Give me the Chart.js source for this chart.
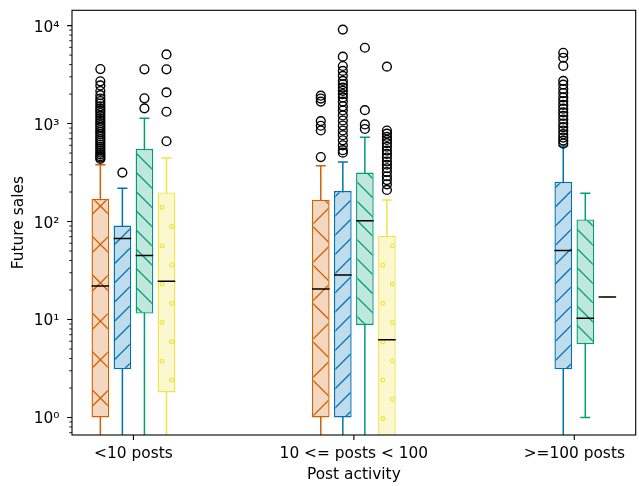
<!DOCTYPE html>
<html><head><meta charset="utf-8">
<script src="https://cdn.jsdelivr.net/npm/chart.js@4/dist/chart.umd.min.js"></script>
<style>html,body{margin:0;padding:0;overflow:hidden;background:#fff;width:639px;height:486px}canvas{display:block}</style>
</head><body>
<canvas id="c" width="646" height="486" style="width:646px;height:486px"></canvas>
<script>
// ---------------- data ----------------
const categories = ['<10 posts', '10 <= posts < 100', '>=100 posts'];
const xTitle = 'Post activity';
const yTitle = 'Future sales';
const yTickValues = [1, 10, 100, 1000, 10000];
const yRange = [0.662, 14330];

// series A (vermillion, "x" hatch)
const aQ1 = [1, 1, null];
const aMedian = [22, 20.5, null];
const aQ3 = [170, 167, null];
const aWhiskerLow = [0, 0, null];
const aWhiskerHigh = [380, 370, null];
const aOutliers = [
  [3600, 2700, 2450, 2150, 1950, 1800, 1700, 1600, 1500, 1420, 1350, 1280, 1200, 1130, 1070, 1010, 960, 910, 860, 820, 780, 740, 700, 670, 640, 610, 580, 555, 530, 505, 485, 465, 450, 435],
  [1925, 1800, 1675, 1060, 950, 850, 455],
  []
];
// series B (blue, "/" hatch)
const bQ1 = [3.1, 1, 3.1];
const bMedian = [67, 28.4, 50.5];
const bQ3 = [91, 205, 254];
const bWhiskerLow = [0, 0, 0];
const bWhiskerHigh = [218, 405, 590];
const bOutliers = [
  [316],
  [9100, 4820, 3870, 3450, 3070, 2730, 2520, 2330, 2160, 2000, 1850, 1675, 1500, 1360, 1210, 1075, 955, 850, 760, 675, 600, 535, 505],
  [5280, 4700, 3880, 2730, 2500, 2250, 2050, 1850, 1700, 1550, 1420, 1300, 1200, 1100, 1000, 920, 850, 780, 720, 670, 625]
];
// series C (green, "\" hatch)
const cQ1 = [11.5, 8.8, 5.6];
const cMedian = [45, 102, 10.3];
const cQ3 = [553, 316, 105];
const cWhiskerLow = [0, 0, 1];
const cWhiskerHigh = [1133, 727, 194];
const cOutliers = [
  [1430, 1810, 3580],
  [880, 980, 1370, 5940],
  []
];
// series D (yellow, "o" hatch)
const dQ1 = [1.8, 0, 17];
const dMedian = [24.6, 6.2, 17];
const dQ3 = [198, 71.6, 17];
const dWhiskerLow = [0, 0, 17];
const dWhiskerHigh = [445, 166, 17];
const dOutliers = [
  [660, 1320, 2080, 3580, 5080],
  [3810, 850, 790, 730, 680, 630, 580, 530, 490, 450, 410, 380, 350, 320, 290, 265, 240, 210],
  []
];

// ---------------- styling ----------------
const FONT = 'DejaVu Sans';
const FS = 15.4;
const seriesColors = ['#d55e00', '#0072b2', '#009e73', '#f0e442'];
const seriesFills = ['#f4d7bf', '#bfdcec', '#bfe7dc', '#fbf8d0'];
const hatchKinds = ['x', '/', '\\', 'o'];
const CAT_PCT = 0.4;
const BOX_PCT = 0.8;

// zero cannot be shown on a log axis: it sits below the visible range
const logSafe = (v) => (v > 0 ? v : yRange[0] / 10);

function makePattern(kind, fill, color) {
  const T = 192;
  const c = document.createElement('canvas'); c.width = T; c.height = T;
  const g = c.getContext('2d');
  g.fillStyle = fill; g.fillRect(0, 0, T, T);
  g.strokeStyle = color; g.lineWidth = 1.3;
  if (kind === '/' || kind === 'x') {
    const P = kind === 'x' ? 38.4 : 19.2;
    const ph = kind === 'x' ? 37.7 : 13.4;
    g.beginPath();
    for (let k = -2; k * P < 2 * T + P; k++) {
      const cc = ph + k * P;
      g.moveTo(cc + 10, -10); g.lineTo(cc - T - 10, T + 10);
    }
    g.stroke();
  }
  if (kind === '\\' || kind === 'x') {
    const P = kind === 'x' ? 38.4 : 19.2;
    const ph = kind === 'x' ? 28.9 : 17;
    g.beginPath();
    for (let k = Math.floor(-(T + P) / P) - 1; k * P < T + P; k++) {
      const cc = ph + k * P;
      g.moveTo(-10, cc - 10); g.lineTo(T + 10, cc + T + 10);
    }
    g.stroke();
  }
  if (kind === 'o') {
    const P = 19.2;
    g.lineWidth = 1.2;
    for (let r = -1; r <= 10; r++) {
      const y = 15.3 + r * P;
      const off = 8.4 + (((r % 2) + 2) % 2) * 9.6;
      for (let q = -1; q <= 10; q++) {
        g.beginPath(); g.arc(off + q * P, y, 1.9, 0, 2 * Math.PI); g.stroke();
      }
    }
  }
  return g.createPattern(c, 'repeat');
}

const series = [
  {q1: aQ1, med: aMedian, q3: aQ3, lo: aWhiskerLow, hi: aWhiskerHigh, out: aOutliers},
  {q1: bQ1, med: bMedian, q3: bQ3, lo: bWhiskerLow, hi: bWhiskerHigh, out: bOutliers},
  {q1: cQ1, med: cMedian, q3: cQ3, lo: cWhiskerLow, hi: cWhiskerHigh, out: cOutliers},
  {q1: dQ1, med: dMedian, q3: dQ3, lo: dWhiskerLow, hi: dWhiskerHigh, out: dOutliers}
];
const nSeries = series.length;
const slot = CAT_PCT / nSeries;

const datasets = [];
series.forEach((s, si) => {
  const off = (si - (nSeries - 1) / 2) * slot;
  const idx = categories.map((_, i) => i).filter(i => s.q1[i] !== null);
  datasets.push({
    type: 'bar', stack: 's' + si, order: 5,
    data: idx.map(i => ({x: i, y: [logSafe(s.q1[i]), logSafe(s.q3[i])]})),
    backgroundColor: makePattern(hatchKinds[si], seriesFills[si], seriesColors[si]),
    borderColor: seriesColors[si], borderWidth: 1.4, borderSkipped: false,
    barPercentage: BOX_PCT, categoryPercentage: CAT_PCT
  });
  datasets.push({
    type: 'bar', stack: 's' + si, order: 6,
    data: idx.map(i => ({x: i, y: [logSafe(s.lo[i]), logSafe(s.hi[i])]})),
    backgroundColor: seriesColors[si], borderWidth: 0,
    barPercentage: 0.068, categoryPercentage: CAT_PCT
  });
  const caps = [];
  idx.forEach(i => { [s.lo[i], s.hi[i]].forEach(v => { if (v > 0) caps.push({x: i + off, y: v}); }); });
  datasets.push({
    type: 'scatter', order: 4, data: caps,
    pointStyle: 'line', radius: 5, borderColor: seriesColors[si], borderWidth: 1.5
  });
  datasets.push({
    type: 'scatter', order: 2, data: idx.map(i => ({x: i + off, y: s.med[i]})),
    pointStyle: 'line', radius: 8.8, borderColor: '#000', borderWidth: 1.5
  });
  const outs = [];
  s.out.forEach((arr, i) => arr.forEach(v => outs.push({x: i + off, y: v})));
  datasets.push({
    type: 'scatter', order: 1, data: outs,
    pointStyle: 'circle', radius: 4.4, borderColor: '#000', borderWidth: 1.4,
    backgroundColor: 'rgba(0,0,0,0)'
  });
});

const sup = ['\u2070', '\u00b9', '\u00b2', '\u00b3', '\u2074', '\u2075'];

const framePlugin = {
  id: 'frame',
  afterDatasetsDraw(chart) {
    const {ctx, chartArea: a, scales: {x, y}} = chart;
    ctx.save();
    ctx.strokeStyle = '#000';
    ctx.lineWidth = 1.1;
    ctx.beginPath();
    x.ticks.forEach(t => { const p = x.getPixelForValue(t.value); ctx.moveTo(p, a.bottom); ctx.lineTo(p, a.bottom + 4.9); });
    y.ticks.forEach(t => { const p = y.getPixelForValue(t.value); ctx.moveTo(a.left, p); ctx.lineTo(a.left - 4.9, p); });
    ctx.stroke();
    ctx.lineWidth = 0.85;
    ctx.beginPath();
    for (let e = -1; e <= 4; e++) {
      for (let m = 2; m <= 9; m++) {
        const v = m * Math.pow(10, e);
        if (v < y.min || v > y.max) continue;
        const p = y.getPixelForValue(v);
        ctx.moveTo(a.left, p); ctx.lineTo(a.left - 2.8, p);
      }
    }
    ctx.stroke();
    ctx.lineWidth = 1.1;
    ctx.strokeRect(a.left, a.top, a.right - a.left, a.bottom - a.top);
    ctx.restore();
  }
};

new Chart(document.getElementById('c'), {
  type: 'bar',
  data: {datasets},
  options: {
    responsive: false, animation: false, events: [], devicePixelRatio: 1,
    layout: {padding: {top: 7.3, left: 0, right: 0, bottom: 0}},
    plugins: {legend: {display: false}, tooltip: {enabled: false}},
    scales: {
      x: {
        type: 'linear', min: -0.2786, max: 2.2786, bounds: 'data', offset: false,
        grid: {display: false, drawTicks: false, offset: false}, border: {display: false},
        afterBuildTicks: (s) => { s.ticks = categories.map((_, i) => ({value: i})); },
        afterFit: (s) => { s.height = 51; s.paddingLeft = 0; s.paddingRight = 0; },
        ticks: {
          autoSkip: false, maxRotation: 0, padding: 9.5, color: '#000',
          font: {family: FONT, size: FS},
          callback: (v) => categories[v] ?? ''
        },
        title: {display: true, text: xTitle, color: '#000', font: {family: FONT, size: FS}, padding: {top: 0, bottom: 1.4}}
      },
      y: {
        type: 'logarithmic', min: yRange[0], max: yRange[1], bounds: 'data', stacked: false,
        grid: {display: false, drawTicks: false}, border: {display: false},
        afterBuildTicks: (s) => { s.ticks = yTickValues.map(v => ({value: v})); },
        afterFit: (s) => { s.width = 72; s.paddingTop = 0; s.paddingBottom = 0; },
        ticks: {
          autoSkip: false, padding: 12.5, labelOffset: 2, color: '#000',
          font: {family: FONT, size: FS},
          callback: (v) => '10' + sup[Math.round(Math.log10(v))]
        },
        title: {display: true, text: yTitle, color: '#000', font: {family: FONT, size: FS}, padding: {top: 9.5, bottom: 0}}
      }
    }
  },
  plugins: [framePlugin]
});
</script>
</body></html>
